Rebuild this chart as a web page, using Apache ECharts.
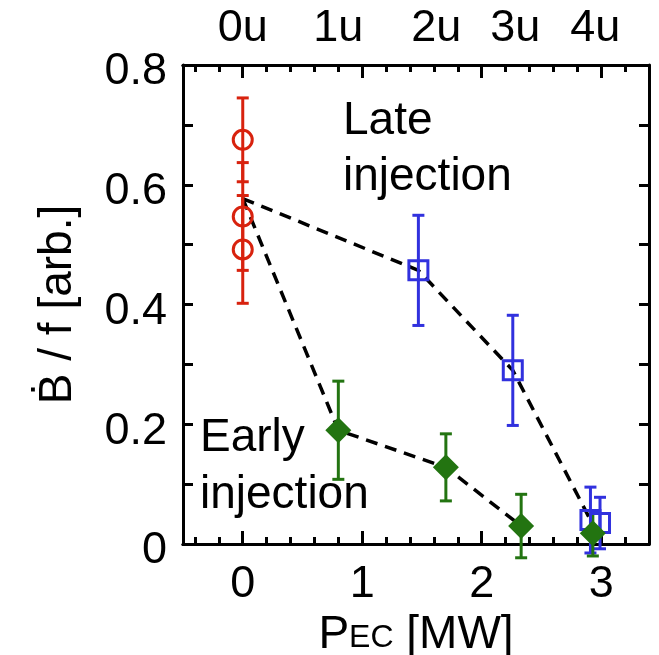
<!DOCTYPE html>
<html><head><meta charset="utf-8">
<script src="https://cdn.jsdelivr.net/npm/echarts@6/dist/echarts.min.js"></script>
<style>html,body{margin:0;padding:0;background:#fff}#c{width:659px;height:655px}</style>
</head><body><div id="c"></div>
<script>
// ---- data ----
const redX = [0, 0, 0];
const redY = [0.675, 0.547, 0.492];
const redErr = [0.07, 0.09, 0.09];
const blueX = [1.47, 2.26, 2.91, 2.99];
const blueY = [0.457, 0.29, 0.04, 0.035];
const blueErr = [0.092, 0.092, 0.055, 0.043];
const greenX = [0.80, 1.70, 2.33, 2.93];
const greenY = [0.19, 0.128, 0.03, 0.018];
const greenErr = [0.082, 0.056, 0.053, 0.038];
const lineOrigin = [0, 0.577];
const lateLine = [lineOrigin, [1.47, 0.457], [2.26, 0.29], [2.91, 0.04]];
const earlyLine = [lineOrigin, [0.80, 0.19], [1.70, 0.128], [2.33, 0.03]];
const xMajorTicks = [0, 1, 2, 3];
const xMinorTicks = [-0.4, -0.2, 0.2, 0.4, 0.6, 0.8, 1.2, 1.4, 1.6, 1.8, 2.2, 2.4, 2.6, 2.8, 3.2, 3.4];
const topLabelPos = [0, 0.8, 1.62, 2.28, 2.95];
const topLabels = ['0u', '1u', '2u', '3u', '4u'];
const yLabelValues = [0, 0.2, 0.4, 0.6, 0.8];

const RED = '#d8220e', BLUE = '#3131de', GREEN = '#237411';
const FONT = "'Liberation Sans', Arial, sans-serif";

function errSeries(xs, ys, es, color) {
  return {
    type: 'custom', xAxisIndex: 0, yAxisIndex: 0, silent: true, z: 3,
    encode: {x: 0, y: [1, 2]},
    data: xs.map((x, i) => [x, ys[i] - es[i], ys[i] + es[i]]),
    renderItem(params, api) {
      const lo = api.coord([api.value(0), api.value(1)]);
      const hi = api.coord([api.value(0), api.value(2)]);
      const w = 6;
      const st = {stroke: color, lineWidth: 3};
      return {type: 'group', children: [
        {type: 'line', shape: {x1: lo[0], y1: lo[1], x2: hi[0], y2: hi[1]}, style: st},
        {type: 'line', shape: {x1: lo[0] - w, y1: lo[1], x2: lo[0] + w, y2: lo[1]}, style: st},
        {type: 'line', shape: {x1: hi[0] - w, y1: hi[1], x2: hi[0] + w, y2: hi[1]}, style: st}
      ]};
    }
  };
}

const xBase = {type: 'value', min: -0.5, max: 3.4, splitLine: {show: false}, axisLine: {show: true, onZero: false, lineStyle: {color: '#000', width: 3}}};
const chart = echarts.init(document.getElementById('c'));
chart.setOption({
  animation: false,
  grid: {left: 183, right: 10, top: 65, bottom: 111, containLabel: false, outerBoundsMode: 'none'},
  xAxis: [
    Object.assign({}, xBase, {position: 'bottom',
      axisTick: {inside: true, length: 13, lineStyle: {width: 3, color: '#000'}, customValues: xMajorTicks},
      axisLabel: {customValues: xMajorTicks, fontSize: 45, fontFamily: FONT, color: '#000', margin: 18},
      name: '{p|P}{s|EC}{p| [MW]}', nameLocation: 'middle', nameGap: 50,
      nameTextStyle: {rich: {
        p: {fontSize: 46, fontFamily: FONT, color: '#000', lineHeight: 50, verticalAlign: 'bottom'},
        s: {fontSize: 32, fontFamily: FONT, color: '#000', lineHeight: 50, verticalAlign: 'bottom', padding: [0, 0, 4, 0]}
      }}
    }),
    Object.assign({}, xBase, {position: 'bottom',
      axisTick: {inside: true, length: 7, lineStyle: {width: 3, color: '#000'}, customValues: xMinorTicks},
      axisLabel: {show: false}}),
    Object.assign({}, xBase, {position: 'top',
      axisTick: {inside: true, length: 13, lineStyle: {width: 3, color: '#000'}, customValues: xMajorTicks},
      axisLabel: {customValues: topLabelPos, fontSize: 45, fontFamily: FONT, color: '#000', margin: 14,
        formatter: v => { let k = 0, d = 1e9; topLabelPos.forEach((p, i) => { if (Math.abs(p - v) < d) { d = Math.abs(p - v); k = i; } }); return topLabels[k]; }}}),
    Object.assign({}, xBase, {position: 'top',
      axisTick: {inside: true, length: 7, lineStyle: {width: 3, color: '#000'}, customValues: xMinorTicks},
      axisLabel: {show: false}})
  ],
  yAxis: [
    {type: 'value', min: 0, max: 0.8, interval: 0.1, position: 'left', splitLine: {show: false},
      axisLine: {show: true, onZero: false, lineStyle: {color: '#000', width: 3}},
      axisTick: {inside: true, length: 10, lineStyle: {width: 3, color: '#000'}},
      axisLabel: {customValues: yLabelValues, color: '#000', margin: 16,
        rich: {v: {fontSize: 45, fontFamily: FONT, color: '#000', padding: [14, 0, 0, 0]}},
        formatter: v => '{v|' + (v === 0 ? '0' : v.toFixed(1)) + '}'},
      name: 'Ḃ / f [arb.]', nameLocation: 'middle', nameGap: 102,
      nameTextStyle: {fontSize: 46, fontFamily: FONT, color: '#000'}},
    {type: 'value', min: 0, max: 0.8, interval: 0.1, position: 'right', splitLine: {show: false},
      axisLine: {show: true, onZero: false, lineStyle: {color: '#000', width: 3}},
      axisTick: {inside: true, length: 10, lineStyle: {width: 3, color: '#000'}},
      axisLabel: {show: false}}
  ],
  graphic: [
    {type: 'text', left: 343, top: 93, style: {text: 'Late\ninjection', font: '46px ' + FONT, fill: '#000', lineHeight: 56}},
    {type: 'text', left: 200, top: 410, style: {text: 'Early\ninjection', font: '46px ' + FONT, fill: '#000', lineHeight: 57}}
  ],
  series: [
    {type: 'line', data: lateLine, symbol: 'none', z: 1, lineStyle: {color: '#000', width: 3.5, type: [12, 8]}},
    {type: 'line', data: earlyLine, symbol: 'none', z: 1, lineStyle: {color: '#000', width: 3.5, type: [12, 8]}},
    errSeries(redX, redY, redErr, RED),
    errSeries(blueX, blueY, blueErr, BLUE),
    errSeries(greenX, greenY, greenErr, GREEN),
    {type: 'scatter', z: 4, symbol: 'circle', symbolSize: 19, data: redX.map((x, i) => [x, redY[i]]),
      itemStyle: {color: 'rgba(0,0,0,0)', borderColor: RED, borderWidth: 3, opacity: 1}},
    {type: 'scatter', z: 4, symbol: 'rect', symbolSize: 19, data: blueX.map((x, i) => [x, blueY[i]]),
      itemStyle: {color: 'rgba(0,0,0,0)', borderColor: BLUE, borderWidth: 3, opacity: 1}},
    {type: 'scatter', z: 5, symbol: 'diamond', symbolSize: 26, data: greenX.map((x, i) => [x, greenY[i]]),
      itemStyle: {color: GREEN, opacity: 1}}
  ]
});
</script></body></html>
